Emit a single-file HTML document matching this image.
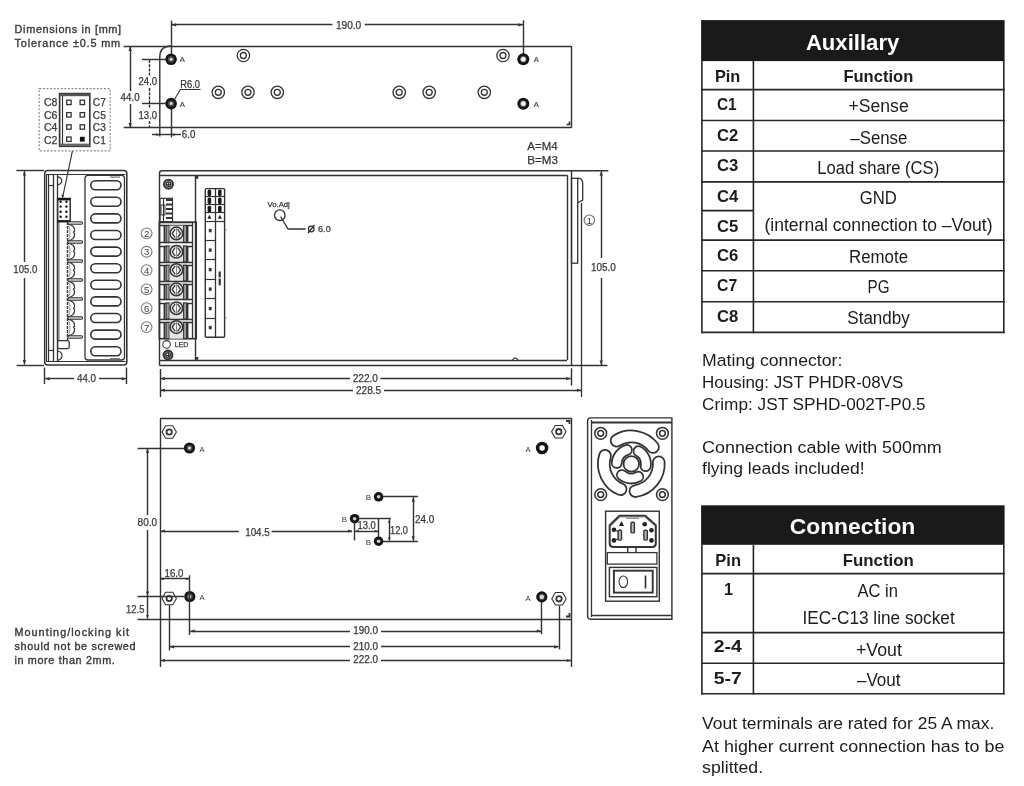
<!DOCTYPE html>
<html><head><meta charset="utf-8"><title>Dimensions</title>
<style>
html,body{margin:0;padding:0;background:#ffffff;}
body{width:1024px;height:786px;overflow:hidden;}
svg{display:block;will-change:transform;font-family:"Liberation Sans", sans-serif;}
</style></head>
<body>
<svg width="1024" height="786" viewBox="0 0 1024 786">
<rect x="0" y="0" width="1024" height="786" fill="#ffffff"/>
<line x1="123.7" y1="46.5" x2="571.4" y2="46.5" stroke="#333333" stroke-width="1.42" />
<line x1="123.7" y1="127.5" x2="571.4" y2="127.5" stroke="#333333" stroke-width="1.42" />
<line x1="571.5" y1="46" x2="571.5" y2="127.9" stroke="#333333" stroke-width="1.42" />
<path d="M171,46 Q159.8,46 159.8,57 L159.8,136.6" stroke="#333333" stroke-width="1.42" fill="none" />
<line x1="171.5" y1="20.6" x2="171.5" y2="54.5" stroke="#333333" stroke-width="1.42" />
<line x1="171.5" y1="108.5" x2="171.5" y2="137.4" stroke="#333333" stroke-width="1.42" />
<line x1="523.5" y1="20.3" x2="523.5" y2="59" stroke="#333333" stroke-width="1.42" />
<line x1="171" y1="24.5" x2="332.4" y2="24.5" stroke="#333333" stroke-width="1.42" />
<line x1="364.8" y1="24.5" x2="523.4" y2="24.5" stroke="#333333" stroke-width="1.42" />
<polygon points="171.6,24.9 176.1,23.3 176.1,26.5" fill="#333333"/>
<polygon points="522.8,24.9 518.3,23.3 518.3,26.5" fill="#333333"/>
<text x="335.9" y="29.2" font-size="10.3" fill="#383838" text-anchor="start" font-weight="normal" textLength="25.3" lengthAdjust="spacingAndGlyphs" stroke="#383838" stroke-width="0.25">190.0</text>
<circle cx="171.1" cy="59.3" r="5.8" fill="#141414"/>
<circle cx="171.1" cy="59.3" r="3.19" fill="#4a4a4a"/>
<circle cx="171.1" cy="59.3" r="1.5" fill="#d8d8d8"/>
<circle cx="171.1" cy="103.6" r="5.8" fill="#141414"/>
<circle cx="171.1" cy="103.6" r="3.19" fill="#4a4a4a"/>
<circle cx="171.1" cy="103.6" r="1.5" fill="#d8d8d8"/>
<circle cx="523.3" cy="59.3" r="6" fill="#141414"/>
<circle cx="523.3" cy="59.3" r="3.2" fill="#6a6a6a"/>
<circle cx="523.3" cy="59.3" r="2.4" fill="#f2f2f2"/>
<circle cx="523.3" cy="103.7" r="6" fill="#141414"/>
<circle cx="523.3" cy="103.7" r="3.2" fill="#6a6a6a"/>
<circle cx="523.3" cy="103.7" r="2.4" fill="#f2f2f2"/>
<text x="179.8" y="61.8" font-size="7.0" fill="#383838" text-anchor="start" font-weight="normal" textLength="5.1" lengthAdjust="spacingAndGlyphs" stroke="#555" stroke-width="0.2">A</text>
<text x="179.8" y="107" font-size="7.0" fill="#383838" text-anchor="start" font-weight="normal" textLength="5.1" lengthAdjust="spacingAndGlyphs" stroke="#555" stroke-width="0.2">A</text>
<text x="533.7" y="61.8" font-size="7.0" fill="#383838" text-anchor="start" font-weight="normal" textLength="5.1" lengthAdjust="spacingAndGlyphs" stroke="#555" stroke-width="0.2">A</text>
<text x="533.7" y="107.2" font-size="7.0" fill="#383838" text-anchor="start" font-weight="normal" textLength="5.1" lengthAdjust="spacingAndGlyphs" stroke="#555" stroke-width="0.2">A</text>
<circle cx="243.4" cy="55.5" r="6.2" stroke="#333333" stroke-width="1.3" fill="none" />
<circle cx="243.4" cy="55.5" r="3" stroke="#333333" stroke-width="1.3" fill="none" />
<circle cx="503" cy="55.5" r="6.2" stroke="#333333" stroke-width="1.3" fill="none" />
<circle cx="503" cy="55.5" r="3" stroke="#333333" stroke-width="1.3" fill="none" />
<circle cx="218.3" cy="92.3" r="6.2" stroke="#333333" stroke-width="1.3" fill="none" />
<circle cx="218.3" cy="92.3" r="3" stroke="#333333" stroke-width="1.3" fill="none" />
<circle cx="248" cy="92.3" r="6.2" stroke="#333333" stroke-width="1.3" fill="none" />
<circle cx="248" cy="92.3" r="3" stroke="#333333" stroke-width="1.3" fill="none" />
<circle cx="277.3" cy="92.3" r="6.2" stroke="#333333" stroke-width="1.3" fill="none" />
<circle cx="277.3" cy="92.3" r="3" stroke="#333333" stroke-width="1.3" fill="none" />
<circle cx="399.2" cy="92.3" r="6.2" stroke="#333333" stroke-width="1.3" fill="none" />
<circle cx="399.2" cy="92.3" r="3" stroke="#333333" stroke-width="1.3" fill="none" />
<circle cx="429.2" cy="92.3" r="6.2" stroke="#333333" stroke-width="1.3" fill="none" />
<circle cx="429.2" cy="92.3" r="3" stroke="#333333" stroke-width="1.3" fill="none" />
<circle cx="484.3" cy="92.3" r="6.2" stroke="#333333" stroke-width="1.3" fill="none" />
<circle cx="484.3" cy="92.3" r="3" stroke="#333333" stroke-width="1.3" fill="none" />
<line x1="130.5" y1="46.5" x2="130.5" y2="91" stroke="#333333" stroke-width="1.42" />
<line x1="130.5" y1="104" x2="130.5" y2="127.5" stroke="#333333" stroke-width="1.42" />
<polygon points="130.1,46.6 128.5,51.1 131.7,51.1" fill="#333333"/>
<polygon points="130.1,127.4 128.5,122.9 131.7,122.9" fill="#333333"/>
<text x="120.6" y="100.9" font-size="10.3" fill="#383838" text-anchor="start" font-weight="normal" textLength="19" lengthAdjust="spacingAndGlyphs" stroke="#383838" stroke-width="0.25">44.0</text>
<line x1="142" y1="59.5" x2="166" y2="59.5" stroke="#333333" stroke-width="1.42" />
<line x1="142" y1="103.5" x2="166" y2="103.5" stroke="#333333" stroke-width="1.42" />
<line x1="149.5" y1="60" x2="149.5" y2="76" stroke="#333333" stroke-width="1.42" stroke-dasharray="3,1.2"/>
<line x1="149.5" y1="88" x2="149.5" y2="109" stroke="#333333" stroke-width="1.42" stroke-dasharray="3,1.2"/>
<line x1="149.5" y1="121" x2="149.5" y2="127.5" stroke="#333333" stroke-width="1.42" stroke-dasharray="3,1.2"/>
<text x="138.5" y="85" font-size="10.3" fill="#383838" text-anchor="start" font-weight="normal" textLength="18.6" lengthAdjust="spacingAndGlyphs" stroke="#383838" stroke-width="0.25">24.0</text>
<text x="138.5" y="118.7" font-size="10.3" fill="#383838" text-anchor="start" font-weight="normal" textLength="18.6" lengthAdjust="spacingAndGlyphs" stroke="#383838" stroke-width="0.25">13.0</text>
<line x1="151.9" y1="134.5" x2="181" y2="134.5" stroke="#333333" stroke-width="1.42" />
<polygon points="159.8,134.6 156.3,133.3 156.3,135.9" fill="#333333"/>
<polygon points="171,134.6 174.5,133.3 174.5,135.9" fill="#333333"/>
<text x="181.8" y="138.4" font-size="10.3" fill="#383838" text-anchor="start" font-weight="normal" textLength="13.5" lengthAdjust="spacingAndGlyphs" stroke="#383838" stroke-width="0.25">6.0</text>
<text x="180.2" y="88.4" font-size="10.3" fill="#383838" text-anchor="start" font-weight="normal" textLength="19.8" lengthAdjust="spacingAndGlyphs" stroke="#383838" stroke-width="0.25">R6.0</text>
<line x1="180" y1="89.5" x2="200.5" y2="89.5" stroke="#333333" stroke-width="1.06" />
<line x1="180.2" y1="89.8" x2="174.6" y2="99.3" stroke="#333333" stroke-width="1.06" />
<path d="M566.5,124.5 L569.5,124.5 L569.5,121.5" stroke="#333333" stroke-width="1.65" fill="none" />
<rect x="39.2" y="88.7" width="71" height="62.2" rx="0" stroke="#8a8a8a" stroke-width="1.18" fill="none" stroke-dasharray="2,1.6"/>
<rect x="59.6" y="93.6" width="30.2" height="52.7" rx="0" stroke="#333333" stroke-width="1.65" fill="none" />
<line x1="62.5" y1="93.6" x2="62.5" y2="146.3" stroke="#333333" stroke-width="1.18" />
<rect x="59.6" y="93.6" width="30.2" height="2.6" fill="#555"/>
<rect x="59.6" y="143.6" width="30.2" height="2.7" fill="#666"/>
<rect x="66.7" y="100.2" width="4.4" height="4.4" rx="0" stroke="#333333" stroke-width="1.3" fill="none" />
<rect x="80.1" y="100.2" width="4.4" height="4.4" rx="0" stroke="#333333" stroke-width="1.3" fill="none" />
<rect x="66.7" y="112.6" width="4.4" height="4.4" rx="0" stroke="#333333" stroke-width="1.3" fill="none" />
<rect x="80.1" y="112.6" width="4.4" height="4.4" rx="0" stroke="#333333" stroke-width="1.3" fill="none" />
<rect x="66.7" y="124.8" width="4.4" height="4.4" rx="0" stroke="#333333" stroke-width="1.3" fill="none" />
<rect x="80.1" y="124.8" width="4.4" height="4.4" rx="0" stroke="#333333" stroke-width="1.3" fill="none" />
<rect x="66.7" y="137" width="4.4" height="4.4" rx="0" stroke="#333333" stroke-width="1.3" fill="none" />
<rect x="79.9" y="136.8" width="4.8" height="4.8" fill="#111"/>
<text x="44" y="106.2" font-size="10.2" fill="#383838" text-anchor="start" font-weight="normal" textLength="13.5" lengthAdjust="spacingAndGlyphs" stroke="#383838" stroke-width="0.25">C8</text>
<text x="92.8" y="106.2" font-size="10.2" fill="#383838" text-anchor="start" font-weight="normal" textLength="13" lengthAdjust="spacingAndGlyphs" stroke="#383838" stroke-width="0.25">C7</text>
<text x="44" y="118.8" font-size="10.2" fill="#383838" text-anchor="start" font-weight="normal" textLength="13.5" lengthAdjust="spacingAndGlyphs" stroke="#383838" stroke-width="0.25">C6</text>
<text x="92.8" y="118.8" font-size="10.2" fill="#383838" text-anchor="start" font-weight="normal" textLength="13" lengthAdjust="spacingAndGlyphs" stroke="#383838" stroke-width="0.25">C5</text>
<text x="44" y="131.4" font-size="10.2" fill="#383838" text-anchor="start" font-weight="normal" textLength="13.5" lengthAdjust="spacingAndGlyphs" stroke="#383838" stroke-width="0.25">C4</text>
<text x="92.8" y="131.4" font-size="10.2" fill="#383838" text-anchor="start" font-weight="normal" textLength="13" lengthAdjust="spacingAndGlyphs" stroke="#383838" stroke-width="0.25">C3</text>
<text x="44" y="144" font-size="10.2" fill="#383838" text-anchor="start" font-weight="normal" textLength="13.5" lengthAdjust="spacingAndGlyphs" stroke="#383838" stroke-width="0.25">C2</text>
<text x="92.8" y="144" font-size="10.2" fill="#383838" text-anchor="start" font-weight="normal" textLength="13" lengthAdjust="spacingAndGlyphs" stroke="#383838" stroke-width="0.25">C1</text>
<line x1="72.4" y1="151" x2="62.5" y2="198" stroke="#333333" stroke-width="1.18" />
<polygon points="62.6,198.2 61.3,194.7 63.9,194.7" fill="#333333"/>
<line x1="16.3" y1="170.5" x2="44" y2="170.5" stroke="#333333" stroke-width="1.42" />
<line x1="16.6" y1="365.5" x2="44" y2="365.5" stroke="#333333" stroke-width="1.42" />
<line x1="24.5" y1="171" x2="24.5" y2="262" stroke="#333333" stroke-width="1.42" />
<line x1="24.5" y1="278" x2="24.5" y2="364.5" stroke="#333333" stroke-width="1.42" />
<polygon points="24.4,171 22.8,175.5 26,175.5" fill="#333333"/>
<polygon points="24.4,364.5 22.8,360 26,360" fill="#333333"/>
<text x="13.3" y="272.9" font-size="10.3" fill="#383838" text-anchor="start" font-weight="normal" textLength="24" lengthAdjust="spacingAndGlyphs" stroke="#383838" stroke-width="0.25">105.0</text>
<rect x="44.7" y="170.5" width="82.1" height="194.5" rx="3" stroke="#333333" stroke-width="1.53" fill="none" />
<line x1="46" y1="174.5" x2="125.5" y2="174.5" stroke="#333333" stroke-width="1.18" />
<line x1="46" y1="361.5" x2="125.5" y2="361.5" stroke="#333333" stroke-width="1.18" />
<line x1="46.5" y1="174.8" x2="46.5" y2="361.1" stroke="#333333" stroke-width="1.06" />
<line x1="48.5" y1="174.8" x2="48.5" y2="361.1" stroke="#333333" stroke-width="1.3" />
<line x1="53.5" y1="174.8" x2="53.5" y2="361.1" stroke="#333333" stroke-width="1.3" />
<line x1="57.5" y1="174.8" x2="57.5" y2="361.1" stroke="#333333" stroke-width="1.3" />
<line x1="48.4" y1="185.5" x2="53.6" y2="185.5" stroke="#333333" stroke-width="1.18" />
<line x1="48.4" y1="350.5" x2="53.6" y2="350.5" stroke="#333333" stroke-width="1.18" />
<path d="M57.6,176.8 Q61.8,177.5 61.8,180.5 Q61.8,184 57.6,184.8" stroke="#333333" stroke-width="1.18" fill="none" />
<path d="M57.6,351 Q62,352 62,355.5 Q62,359.5 57.6,360.2" stroke="#333333" stroke-width="1.18" fill="none" />
<rect x="57.6" y="198.5" width="12.6" height="22.7" rx="0" stroke="#333333" stroke-width="1.53" fill="none" />
<rect x="57.6" y="198" width="12.6" height="2.4" fill="#151515"/>
<circle cx="60.6" cy="201.7" r="1.2" fill="#111"/>
<circle cx="66.4" cy="201.7" r="1.2" fill="#111"/>
<circle cx="60.6" cy="206.6" r="1.2" fill="#111"/>
<circle cx="66.4" cy="206.6" r="1.2" fill="#111"/>
<circle cx="60.6" cy="211.8" r="1.2" fill="#111"/>
<circle cx="66.4" cy="211.8" r="1.2" fill="#111"/>
<circle cx="60.6" cy="216.7" r="1.2" fill="#111"/>
<circle cx="66.4" cy="216.7" r="1.2" fill="#111"/>
<rect x="57.6" y="221.2" width="2.1" height="119" fill="#9a9a9a"/>
<line x1="57.5" y1="221.2" x2="57.5" y2="340.6" stroke="#333333" stroke-width="1.3" />
<line x1="67.5" y1="222" x2="67.5" y2="340" stroke="#333333" stroke-width="1.42" stroke-dasharray="3,1"/>
<rect x="57.6" y="220.2" width="12.8" height="2.2" fill="#151515"/>
<rect x="67.8" y="221.75" width="14.8" height="2.5" rx="1.2" stroke="#333333" stroke-width="1.06" fill="#d4d4d4" />
<rect x="67.8" y="240.75" width="14.8" height="2.5" rx="1.2" stroke="#333333" stroke-width="1.06" fill="#d4d4d4" />
<rect x="67.8" y="259.75" width="14.8" height="2.5" rx="1.2" stroke="#333333" stroke-width="1.06" fill="#d4d4d4" />
<rect x="67.8" y="278.75" width="14.8" height="2.5" rx="1.2" stroke="#333333" stroke-width="1.06" fill="#d4d4d4" />
<rect x="67.8" y="297.75" width="14.8" height="2.5" rx="1.2" stroke="#333333" stroke-width="1.06" fill="#d4d4d4" />
<rect x="67.8" y="316.75" width="14.8" height="2.5" rx="1.2" stroke="#333333" stroke-width="1.06" fill="#d4d4d4" />
<rect x="67.8" y="335.75" width="14.8" height="2.5" rx="1.2" stroke="#333333" stroke-width="1.06" fill="#d4d4d4" />
<path d="M68,224.5 C72,224.5 75,227 74.6,231.1 Q72.4,232.3 74.6,233.5 C75,238 72,240.5 68,240.5" stroke="#333333" stroke-width="1.18" fill="none" />
<path d="M68.5,226 C70.5,227.5 70.5,237.5 68.5,239" stroke="#777" stroke-width="0.83" fill="none" />
<path d="M68,243.5 C72,243.5 75,246 74.6,250.1 Q72.4,251.3 74.6,252.5 C75,257 72,259.5 68,259.5" stroke="#333333" stroke-width="1.18" fill="none" />
<path d="M68.5,245 C70.5,246.5 70.5,256.5 68.5,258" stroke="#777" stroke-width="0.83" fill="none" />
<path d="M68,262.5 C72,262.5 75,265 74.6,269.1 Q72.4,270.3 74.6,271.5 C75,276 72,278.5 68,278.5" stroke="#333333" stroke-width="1.18" fill="none" />
<path d="M68.5,264 C70.5,265.5 70.5,275.5 68.5,277" stroke="#777" stroke-width="0.83" fill="none" />
<path d="M68,281.5 C72,281.5 75,284 74.6,288.1 Q72.4,289.3 74.6,290.5 C75,295 72,297.5 68,297.5" stroke="#333333" stroke-width="1.18" fill="none" />
<path d="M68.5,283 C70.5,284.5 70.5,294.5 68.5,296" stroke="#777" stroke-width="0.83" fill="none" />
<path d="M68,300.5 C72,300.5 75,303 74.6,307.1 Q72.4,308.3 74.6,309.5 C75,314 72,316.5 68,316.5" stroke="#333333" stroke-width="1.18" fill="none" />
<path d="M68.5,302 C70.5,303.5 70.5,313.5 68.5,315" stroke="#777" stroke-width="0.83" fill="none" />
<path d="M68,319.5 C72,319.5 75,322 74.6,326.1 Q72.4,327.3 74.6,328.5 C75,333 72,335.5 68,335.5" stroke="#333333" stroke-width="1.18" fill="none" />
<path d="M68.5,321 C70.5,322.5 70.5,332.5 68.5,334" stroke="#777" stroke-width="0.83" fill="none" />
<rect x="57.6" y="340.6" width="11.6" height="8" rx="1.5" stroke="#333333" stroke-width="1.3" fill="none" />
<rect x="85" y="175.4" width="39.5" height="184.6" rx="3" stroke="#333333" stroke-width="1.3" fill="none" />
<rect x="90.8" y="180.7" width="30.2" height="9" rx="4.5" stroke="#333333" stroke-width="1.59" fill="none" />
<rect x="90.8" y="197.3" width="30.2" height="9" rx="4.5" stroke="#333333" stroke-width="1.59" fill="none" />
<rect x="90.8" y="213.9" width="30.2" height="9" rx="4.5" stroke="#333333" stroke-width="1.59" fill="none" />
<rect x="90.8" y="230.5" width="30.2" height="9" rx="4.5" stroke="#333333" stroke-width="1.59" fill="none" />
<rect x="90.8" y="247.1" width="30.2" height="9" rx="4.5" stroke="#333333" stroke-width="1.59" fill="none" />
<rect x="90.8" y="263.7" width="30.2" height="9" rx="4.5" stroke="#333333" stroke-width="1.59" fill="none" />
<rect x="90.8" y="280.3" width="30.2" height="9" rx="4.5" stroke="#333333" stroke-width="1.59" fill="none" />
<rect x="90.8" y="296.9" width="30.2" height="9" rx="4.5" stroke="#333333" stroke-width="1.59" fill="none" />
<rect x="90.8" y="313.5" width="30.2" height="9" rx="4.5" stroke="#333333" stroke-width="1.59" fill="none" />
<rect x="90.8" y="330.1" width="30.2" height="9" rx="4.5" stroke="#333333" stroke-width="1.59" fill="none" />
<rect x="90.8" y="346.7" width="30.2" height="9" rx="4.5" stroke="#333333" stroke-width="1.59" fill="none" />
<rect x="110" y="176.5" width="10" height="1.2" fill="#777"/>
<rect x="110" y="358" width="10" height="1.2" fill="#777"/>
<line x1="44.5" y1="367.5" x2="44.5" y2="384" stroke="#333333" stroke-width="1.42" />
<line x1="126.5" y1="367.5" x2="126.5" y2="384" stroke="#333333" stroke-width="1.42" />
<line x1="45.2" y1="378.5" x2="74" y2="378.5" stroke="#333333" stroke-width="1.42" />
<line x1="99" y1="378.5" x2="126.1" y2="378.5" stroke="#333333" stroke-width="1.42" />
<polygon points="45.2,378.8 49.7,377.2 49.7,380.4" fill="#333333"/>
<polygon points="126.1,378.8 121.6,377.2 121.6,380.4" fill="#333333"/>
<text x="77" y="381.9" font-size="10.3" fill="#383838" text-anchor="start" font-weight="normal" textLength="19" lengthAdjust="spacingAndGlyphs" stroke="#383838" stroke-width="0.25">44.0</text>
<path d="M159.5,365.5 L159.5,173 Q159.5,170.7 162,170.7 L608.3,170.7" stroke="#333333" stroke-width="1.42" fill="none" />
<line x1="159.5" y1="175.5" x2="567.8" y2="175.5" stroke="#333333" stroke-width="1.42" />
<line x1="567.5" y1="175.8" x2="567.5" y2="360.1" stroke="#333333" stroke-width="1.42" />
<line x1="159.5" y1="360.5" x2="567" y2="360.5" stroke="#333333" stroke-width="1.42" />
<line x1="159.5" y1="365.5" x2="607.5" y2="365.5" stroke="#333333" stroke-width="1.42" />
<line x1="571.5" y1="170.7" x2="571.5" y2="365.5" stroke="#333333" stroke-width="1.42" />
<line x1="195.5" y1="175.8" x2="195.5" y2="360.1" stroke="#333333" stroke-width="1.42" />
<rect x="196" y="176" width="2.2" height="2.8" fill="#333"/>
<rect x="196" y="357" width="2.2" height="2.8" fill="#333"/>
<path d="M512.5,360.1 Q515.3,355.5 518,360.1" stroke="#333333" stroke-width="1.18" fill="white" />
<circle cx="168.5" cy="184.2" r="4.4" stroke="#333333" stroke-width="2.12" fill="#d8d8d8" />
<circle cx="168.5" cy="184.2" r="2.4" stroke="#333333" stroke-width="1.18" fill="none" />
<line x1="166.3" y1="184.5" x2="170.7" y2="184.5" stroke="#333333" stroke-width="0.94" />
<line x1="168.5" y1="182" x2="168.5" y2="186.4" stroke="#333333" stroke-width="0.94" />
<circle cx="168" cy="355" r="4.4" stroke="#333333" stroke-width="2.12" fill="#d8d8d8" />
<circle cx="168" cy="355" r="2.4" stroke="#333333" stroke-width="1.18" fill="none" />
<line x1="165.8" y1="355.5" x2="170.2" y2="355.5" stroke="#333333" stroke-width="0.94" />
<line x1="168.5" y1="352.8" x2="168.5" y2="357.2" stroke="#333333" stroke-width="0.94" />
<rect x="160" y="198.3" width="12.5" height="23.5" rx="0" stroke="#333333" stroke-width="1.18" fill="none" />
<line x1="163.5" y1="198.3" x2="163.5" y2="221.8" stroke="#333333" stroke-width="1.18" />
<rect x="166" y="199" width="7" height="2" fill="#333"/>
<rect x="166" y="203.5" width="7" height="2" fill="#333"/>
<rect x="166" y="208" width="7" height="2" fill="#333"/>
<rect x="166" y="212.5" width="7" height="2" fill="#333"/>
<rect x="166" y="217" width="7" height="2" fill="#333"/>
<rect x="161" y="205" width="4" height="10" rx="0" stroke="#333333" stroke-width="0.94" fill="none" />
<rect x="159.4" y="222.2" width="36.8" height="116.5" rx="0" stroke="#333333" stroke-width="1.65" fill="none" />
<line x1="192.5" y1="222.2" x2="192.5" y2="338.7" stroke="#333333" stroke-width="1.3" />
<line x1="159.4" y1="222.5" x2="192.8" y2="222.5" stroke="#333333" stroke-width="1.53" />
<line x1="159.4" y1="225.5" x2="192.8" y2="225.5" stroke="#333333" stroke-width="1.3" />
<line x1="164.5" y1="225.6" x2="164.5" y2="242.6" stroke="#333333" stroke-width="1.89" />
<rect x="166.2" y="225.6" width="3" height="17" rx="0" stroke="#333333" stroke-width="1.06" fill="#a0a0a0" />
<rect x="169.6" y="225.6" width="13.6" height="17" fill="#e4e4e4"/>
<rect x="183.6" y="225.6" width="3" height="17" rx="0" stroke="#333333" stroke-width="1.06" fill="#a0a0a0" />
<line x1="187.5" y1="225.6" x2="187.5" y2="242.6" stroke="#333333" stroke-width="1.89" />
<circle cx="176.4" cy="233.4" r="6.3" stroke="#333333" stroke-width="1.53" fill="#f4f4f4" />
<path d="M175.2,229.1 L172.2,233.4 L175.2,237.7 M177.6,229.1 L180.6,233.4 L177.6,237.7" stroke="#333333" stroke-width="1.3" fill="none" />
<line x1="176.5" y1="227.9" x2="176.5" y2="238.9" stroke="#777" stroke-width="0.83" />
<circle cx="146.6" cy="233.4" r="5.4" stroke="#777" stroke-width="1.06" fill="none" />
<text x="146.6" y="236.8" font-size="9.6" fill="#3a3a3a" text-anchor="middle" font-weight="normal" >2</text>
<line x1="159.4" y1="242.5" x2="192.8" y2="242.5" stroke="#333333" stroke-width="1.53" />
<line x1="159.4" y1="246.5" x2="192.8" y2="246.5" stroke="#333333" stroke-width="1.3" />
<line x1="164.5" y1="246" x2="164.5" y2="261.9" stroke="#333333" stroke-width="1.89" />
<rect x="166.2" y="246" width="3" height="15.9" rx="0" stroke="#333333" stroke-width="1.06" fill="#a0a0a0" />
<rect x="169.6" y="246" width="13.6" height="15.9" fill="#e4e4e4"/>
<rect x="183.6" y="246" width="3" height="15.9" rx="0" stroke="#333333" stroke-width="1.06" fill="#a0a0a0" />
<line x1="187.5" y1="246" x2="187.5" y2="261.9" stroke="#333333" stroke-width="1.89" />
<circle cx="176.4" cy="251.8" r="6.3" stroke="#333333" stroke-width="1.53" fill="#f4f4f4" />
<path d="M175.2,247.5 L172.2,251.8 L175.2,256.1 M177.6,247.5 L180.6,251.8 L177.6,256.1" stroke="#333333" stroke-width="1.3" fill="none" />
<line x1="176.5" y1="246.3" x2="176.5" y2="257.3" stroke="#777" stroke-width="0.83" />
<circle cx="146.6" cy="251.8" r="5.4" stroke="#777" stroke-width="1.06" fill="none" />
<text x="146.6" y="255.2" font-size="9.6" fill="#3a3a3a" text-anchor="middle" font-weight="normal" >3</text>
<line x1="159.4" y1="262.5" x2="192.8" y2="262.5" stroke="#333333" stroke-width="1.53" />
<line x1="159.4" y1="265.5" x2="192.8" y2="265.5" stroke="#333333" stroke-width="1.3" />
<line x1="164.5" y1="265.3" x2="164.5" y2="280.9" stroke="#333333" stroke-width="1.89" />
<rect x="166.2" y="265.3" width="3" height="15.6" rx="0" stroke="#333333" stroke-width="1.06" fill="#a0a0a0" />
<rect x="169.6" y="265.3" width="13.6" height="15.6" fill="#e4e4e4"/>
<rect x="183.6" y="265.3" width="3" height="15.6" rx="0" stroke="#333333" stroke-width="1.06" fill="#a0a0a0" />
<line x1="187.5" y1="265.3" x2="187.5" y2="280.9" stroke="#333333" stroke-width="1.89" />
<circle cx="176.4" cy="270.1" r="6.3" stroke="#333333" stroke-width="1.53" fill="#f4f4f4" />
<path d="M175.2,265.8 L172.2,270.1 L175.2,274.4 M177.6,265.8 L180.6,270.1 L177.6,274.4" stroke="#333333" stroke-width="1.3" fill="none" />
<line x1="176.5" y1="264.6" x2="176.5" y2="275.6" stroke="#777" stroke-width="0.83" />
<circle cx="146.6" cy="270.1" r="5.4" stroke="#777" stroke-width="1.06" fill="none" />
<text x="146.6" y="273.5" font-size="9.6" fill="#3a3a3a" text-anchor="middle" font-weight="normal" >4</text>
<line x1="159.4" y1="281.5" x2="192.8" y2="281.5" stroke="#333333" stroke-width="1.53" />
<line x1="159.4" y1="284.5" x2="192.8" y2="284.5" stroke="#333333" stroke-width="1.3" />
<line x1="164.5" y1="284.3" x2="164.5" y2="299.6" stroke="#333333" stroke-width="1.89" />
<rect x="166.2" y="284.3" width="3" height="15.3" rx="0" stroke="#333333" stroke-width="1.06" fill="#a0a0a0" />
<rect x="169.6" y="284.3" width="13.6" height="15.3" fill="#e4e4e4"/>
<rect x="183.6" y="284.3" width="3" height="15.3" rx="0" stroke="#333333" stroke-width="1.06" fill="#a0a0a0" />
<line x1="187.5" y1="284.3" x2="187.5" y2="299.6" stroke="#333333" stroke-width="1.89" />
<circle cx="176.4" cy="289.4" r="6.3" stroke="#333333" stroke-width="1.53" fill="#f4f4f4" />
<path d="M175.2,285.1 L172.2,289.4 L175.2,293.7 M177.6,285.1 L180.6,289.4 L177.6,293.7" stroke="#333333" stroke-width="1.3" fill="none" />
<line x1="176.5" y1="283.9" x2="176.5" y2="294.9" stroke="#777" stroke-width="0.83" />
<circle cx="146.6" cy="289.4" r="5.4" stroke="#777" stroke-width="1.06" fill="none" />
<text x="146.6" y="292.8" font-size="9.6" fill="#3a3a3a" text-anchor="middle" font-weight="normal" >5</text>
<line x1="159.4" y1="299.5" x2="192.8" y2="299.5" stroke="#333333" stroke-width="1.53" />
<line x1="159.4" y1="303.5" x2="192.8" y2="303.5" stroke="#333333" stroke-width="1.3" />
<line x1="164.5" y1="303" x2="164.5" y2="319" stroke="#333333" stroke-width="1.89" />
<rect x="166.2" y="303" width="3" height="16" rx="0" stroke="#333333" stroke-width="1.06" fill="#a0a0a0" />
<rect x="169.6" y="303" width="13.6" height="16" fill="#e4e4e4"/>
<rect x="183.6" y="303" width="3" height="16" rx="0" stroke="#333333" stroke-width="1.06" fill="#a0a0a0" />
<line x1="187.5" y1="303" x2="187.5" y2="319" stroke="#333333" stroke-width="1.89" />
<circle cx="176.4" cy="308.2" r="6.3" stroke="#333333" stroke-width="1.53" fill="#f4f4f4" />
<path d="M175.2,303.9 L172.2,308.2 L175.2,312.5 M177.6,303.9 L180.6,308.2 L177.6,312.5" stroke="#333333" stroke-width="1.3" fill="none" />
<line x1="176.5" y1="302.7" x2="176.5" y2="313.7" stroke="#777" stroke-width="0.83" />
<circle cx="146.6" cy="308.2" r="5.4" stroke="#777" stroke-width="1.06" fill="none" />
<text x="146.6" y="311.6" font-size="9.6" fill="#3a3a3a" text-anchor="middle" font-weight="normal" >6</text>
<line x1="159.4" y1="319.5" x2="192.8" y2="319.5" stroke="#333333" stroke-width="1.53" />
<line x1="159.4" y1="322.5" x2="192.8" y2="322.5" stroke="#333333" stroke-width="1.3" />
<line x1="164.5" y1="322.4" x2="164.5" y2="338.7" stroke="#333333" stroke-width="1.89" />
<rect x="166.2" y="322.4" width="3" height="16.3" rx="0" stroke="#333333" stroke-width="1.06" fill="#a0a0a0" />
<rect x="169.6" y="322.4" width="13.6" height="16.3" fill="#e4e4e4"/>
<rect x="183.6" y="322.4" width="3" height="16.3" rx="0" stroke="#333333" stroke-width="1.06" fill="#a0a0a0" />
<line x1="187.5" y1="322.4" x2="187.5" y2="338.7" stroke="#333333" stroke-width="1.89" />
<circle cx="176.4" cy="327.1" r="6.3" stroke="#333333" stroke-width="1.53" fill="#f4f4f4" />
<path d="M175.2,322.8 L172.2,327.1 L175.2,331.4 M177.6,322.8 L180.6,327.1 L177.6,331.4" stroke="#333333" stroke-width="1.3" fill="none" />
<line x1="176.5" y1="321.6" x2="176.5" y2="332.6" stroke="#777" stroke-width="0.83" />
<circle cx="146.6" cy="327.1" r="5.4" stroke="#777" stroke-width="1.06" fill="none" />
<text x="146.6" y="330.5" font-size="9.6" fill="#3a3a3a" text-anchor="middle" font-weight="normal" >7</text>
<rect x="205.3" y="188.6" width="19.3" height="148.7" rx="1" stroke="#333333" stroke-width="1.42" fill="none" />
<line x1="215.5" y1="188.6" x2="215.5" y2="337.3" stroke="#333333" stroke-width="1.3" />
<line x1="205.3" y1="196.5" x2="224.6" y2="196.5" stroke="#333333" stroke-width="1.18" />
<line x1="205.3" y1="204.5" x2="224.6" y2="204.5" stroke="#333333" stroke-width="1.18" />
<line x1="205.3" y1="212.5" x2="224.6" y2="212.5" stroke="#333333" stroke-width="1.18" />
<line x1="205.3" y1="221.5" x2="224.6" y2="221.5" stroke="#333333" stroke-width="1.18" />
<line x1="205.3" y1="240.5" x2="215.2" y2="240.5" stroke="#333333" stroke-width="1.18" />
<line x1="205.3" y1="259.5" x2="215.2" y2="259.5" stroke="#333333" stroke-width="1.18" />
<line x1="205.3" y1="279.5" x2="215.2" y2="279.5" stroke="#333333" stroke-width="1.18" />
<line x1="205.3" y1="298.5" x2="215.2" y2="298.5" stroke="#333333" stroke-width="1.18" />
<line x1="205.3" y1="318.5" x2="215.2" y2="318.5" stroke="#333333" stroke-width="1.18" />
<rect x="207.6" y="189.5" width="3.6" height="6.4" rx="1.5" fill="#1c1c1c"/>
<rect x="218" y="189.5" width="3.6" height="6.4" rx="1.5" fill="#1c1c1c"/>
<rect x="207.6" y="197.6" width="3.6" height="6.4" rx="1.5" fill="#1c1c1c"/>
<rect x="218" y="197.6" width="3.6" height="6.4" rx="1.5" fill="#1c1c1c"/>
<rect x="207.6" y="205.8" width="3.6" height="6.4" rx="1.5" fill="#1c1c1c"/>
<rect x="218" y="205.8" width="3.6" height="6.4" rx="1.5" fill="#1c1c1c"/>
<polygon points="207.4,218.8 211.4,218.8 209.4,214.8" fill="#222"/>
<polygon points="217.8,218.8 221.8,218.8 219.8,214.8" fill="#222"/>
<rect x="208.8" y="228.9" width="2.8" height="3.4" fill="#333"/>
<rect x="208.8" y="248.4" width="2.8" height="3.4" fill="#333"/>
<rect x="208.8" y="267.9" width="2.8" height="3.4" fill="#333"/>
<rect x="208.8" y="287.4" width="2.8" height="3.4" fill="#333"/>
<rect x="208.8" y="306.9" width="2.8" height="3.4" fill="#333"/>
<rect x="208.8" y="325.9" width="2.8" height="3.4" fill="#333"/>
<rect x="218.6" y="271.5" width="2.2" height="5.8" fill="#333"/>
<rect x="218.6" y="278.5" width="2.2" height="6.8" fill="#333"/>
<rect x="225.4" y="229" width="1.2" height="1.4" fill="#888"/>
<rect x="225.4" y="317" width="1.2" height="1.4" fill="#888"/>
<circle cx="166.6" cy="344.4" r="3.8" stroke="#333333" stroke-width="1.06" fill="none" />
<text x="174.7" y="346.8" font-size="7.4" fill="#383838" text-anchor="start" font-weight="normal" textLength="13.7" lengthAdjust="spacingAndGlyphs" stroke="#383838" stroke-width="0.25">LED</text>
<text x="267.5" y="207.3" font-size="7.3" fill="#383838" text-anchor="start" font-weight="normal" textLength="22.3" lengthAdjust="spacingAndGlyphs" stroke="#383838" stroke-width="0.25">Vo.Adj</text>
<circle cx="279.8" cy="215.2" r="5.3" stroke="#333333" stroke-width="1.3" fill="none" />
<path d="M280.6,216.5 L288,229 L305.6,229" stroke="#333333" stroke-width="1.3" fill="none" />
<circle cx="311.2" cy="229" r="2.8" stroke="#333333" stroke-width="1.3" fill="none" />
<line x1="308" y1="233" x2="314.5" y2="225" stroke="#333333" stroke-width="1.3" />
<text x="318" y="231.8" font-size="9.0" fill="#383838" text-anchor="start" font-weight="normal" textLength="12.8" lengthAdjust="spacingAndGlyphs" stroke="#383838" stroke-width="0.25">6.0</text>
<rect x="571.5" y="178.3" width="6.2" height="84.9" rx="0" stroke="#333333" stroke-width="1.3" fill="none" />
<path d="M577.7,178.3 L580,178.3 Q582.7,179.5 582.7,184 L582.7,200 L577.7,202.8" stroke="#333333" stroke-width="1.3" fill="none" />
<line x1="581.5" y1="202.8" x2="581.5" y2="397" stroke="#333333" stroke-width="1.3" />
<circle cx="589.3" cy="220.2" r="5.2" stroke="#666" stroke-width="1.06" fill="none" />
<text x="589.3" y="223.6" font-size="9.5" fill="#383838" text-anchor="middle" font-weight="normal" >1</text>
<line x1="601.5" y1="171.2" x2="601.5" y2="258" stroke="#333333" stroke-width="1.42" />
<line x1="601.5" y1="278" x2="601.5" y2="365" stroke="#333333" stroke-width="1.42" />
<polygon points="601.2,171.2 599.6,175.7 602.8,175.7" fill="#333333"/>
<polygon points="601.2,365 599.6,360.5 602.8,360.5" fill="#333333"/>
<text x="591" y="270.8" font-size="10.3" fill="#383838" text-anchor="start" font-weight="normal" textLength="24.9" lengthAdjust="spacingAndGlyphs" stroke="#383838" stroke-width="0.25">105.0</text>
<text x="527.3" y="149.6" font-size="10.3" fill="#383838" text-anchor="start" font-weight="normal" textLength="30.3" lengthAdjust="spacingAndGlyphs" stroke="#383838" stroke-width="0.25">A=M4</text>
<text x="527.3" y="163.9" font-size="10.3" fill="#383838" text-anchor="start" font-weight="normal" textLength="30.6" lengthAdjust="spacingAndGlyphs" stroke="#383838" stroke-width="0.25">B=M3</text>
<line x1="160.5" y1="369" x2="160.5" y2="397" stroke="#333333" stroke-width="1.42" />
<line x1="571.5" y1="368.3" x2="571.5" y2="385.5" stroke="#333333" stroke-width="1.42" />
<line x1="160.5" y1="378.5" x2="350" y2="378.5" stroke="#333333" stroke-width="1.42" />
<line x1="380.5" y1="378.5" x2="570.7" y2="378.5" stroke="#333333" stroke-width="1.42" />
<polygon points="160.5,378.7 165,377.1 165,380.3" fill="#333333"/>
<polygon points="570.7,378.7 566.2,377.1 566.2,380.3" fill="#333333"/>
<text x="352.7" y="382.3" font-size="10.3" fill="#383838" text-anchor="start" font-weight="normal" textLength="25.2" lengthAdjust="spacingAndGlyphs" stroke="#383838" stroke-width="0.25">222.0</text>
<line x1="160.5" y1="390.5" x2="353" y2="390.5" stroke="#333333" stroke-width="1.42" />
<line x1="384" y1="390.5" x2="581.4" y2="390.5" stroke="#333333" stroke-width="1.42" />
<polygon points="160.5,390.2 165,388.6 165,391.8" fill="#333333"/>
<polygon points="581.4,390.2 576.9,388.6 576.9,391.8" fill="#333333"/>
<text x="356" y="393.7" font-size="10.3" fill="#383838" text-anchor="start" font-weight="normal" textLength="25.2" lengthAdjust="spacingAndGlyphs" stroke="#383838" stroke-width="0.25">228.5</text>
<line x1="160" y1="418.5" x2="571.9" y2="418.5" stroke="#333333" stroke-width="1.42" />
<line x1="160.5" y1="418.3" x2="160.5" y2="667" stroke="#333333" stroke-width="1.42" />
<line x1="571.5" y1="418.3" x2="571.5" y2="667" stroke="#333333" stroke-width="1.42" />
<line x1="137.6" y1="619.5" x2="571.9" y2="619.5" stroke="#333333" stroke-width="1.42" />
<path d="M566,421 L569.5,421 L569.5,424" stroke="#333333" stroke-width="1.77" fill="none" />
<path d="M566,616.5 L569.5,616.5 L569.5,613" stroke="#333333" stroke-width="1.77" fill="none" />
<polygon points="176.4,432 172.8,438.24 165.6,438.24 162,432 165.6,425.76 172.8,425.76" stroke="#333333" stroke-width="1.1" fill="white"/>
<circle cx="169.2" cy="432" r="2.7" stroke="#333333" stroke-width="1.77" fill="none" />
<polygon points="566,431.7 562.4,437.94 555.2,437.94 551.6,431.7 555.2,425.46 562.4,425.46" stroke="#333333" stroke-width="1.1" fill="white"/>
<circle cx="558.8" cy="431.7" r="2.7" stroke="#333333" stroke-width="1.77" fill="none" />
<polygon points="176.4,598.5 172.8,604.74 165.6,604.74 162,598.5 165.6,592.26 172.8,592.26" stroke="#333333" stroke-width="1.1" fill="white"/>
<circle cx="169.2" cy="598.5" r="2.7" stroke="#333333" stroke-width="1.77" fill="none" />
<polygon points="566.2,598.8 562.6,605.04 555.4,605.04 551.8,598.8 555.4,592.56 562.6,592.56" stroke="#333333" stroke-width="1.1" fill="white"/>
<circle cx="559" cy="598.8" r="2.7" stroke="#333333" stroke-width="1.77" fill="none" />
<circle cx="189.5" cy="448" r="5.6" fill="#141414"/>
<circle cx="189.5" cy="448" r="3.08" fill="#4a4a4a"/>
<circle cx="189.5" cy="448" r="1.6" fill="#d8d8d8"/>
<circle cx="189.8" cy="596.5" r="5.6" fill="#141414"/>
<circle cx="189.8" cy="596.5" r="3.08" fill="#4a4a4a"/>
<circle cx="189.8" cy="596.5" r="1.6" fill="#d8d8d8"/>
<circle cx="542.1" cy="448" r="4.5" stroke="#151515" stroke-width="3.54" fill="white" />
<circle cx="541.8" cy="596.9" r="5.6" fill="#141414"/>
<circle cx="541.8" cy="596.9" r="3.08" fill="#4a4a4a"/>
<circle cx="541.8" cy="596.9" r="2.2" fill="#d8d8d8"/>
<text x="199.4" y="452.3" font-size="7.6" fill="#383838" text-anchor="start" font-weight="normal" >A</text>
<text x="199.4" y="600.2" font-size="7.6" fill="#383838" text-anchor="start" font-weight="normal" >A</text>
<text x="525.4" y="452.3" font-size="7.6" fill="#383838" text-anchor="start" font-weight="normal" >A</text>
<text x="525.4" y="601.2" font-size="7.6" fill="#383838" text-anchor="start" font-weight="normal" >A</text>
<line x1="137.6" y1="448.5" x2="184" y2="448.5" stroke="#333333" stroke-width="1.42" />
<line x1="137.6" y1="596.5" x2="184" y2="596.5" stroke="#333333" stroke-width="1.42" />
<line x1="147.5" y1="448.5" x2="147.5" y2="515" stroke="#333333" stroke-width="1.42" />
<line x1="147.5" y1="530" x2="147.5" y2="596" stroke="#333333" stroke-width="1.42" />
<polygon points="147.5,448.6 145.9,453.1 149.1,453.1" fill="#333333"/>
<polygon points="147.5,596 145.9,591.5 149.1,591.5" fill="#333333"/>
<line x1="147.5" y1="597" x2="147.5" y2="618.6" stroke="#333333" stroke-width="1.42" />
<polygon points="147.5,618.6 146.2,615.1 148.8,615.1" fill="#333333"/>
<text x="137.6" y="525.8" font-size="10.3" fill="#383838" text-anchor="start" font-weight="normal" textLength="19.4" lengthAdjust="spacingAndGlyphs" stroke="#383838" stroke-width="0.25">80.0</text>
<text x="126.1" y="612.9" font-size="10.3" fill="#383838" text-anchor="start" font-weight="normal" textLength="18.3" lengthAdjust="spacingAndGlyphs" stroke="#383838" stroke-width="0.25">12.5</text>
<line x1="160.5" y1="531.5" x2="238.8" y2="531.5" stroke="#333333" stroke-width="1.42" />
<line x1="271.6" y1="531.5" x2="352" y2="531.5" stroke="#333333" stroke-width="1.42" />
<polygon points="160.5,531 165,529.4 165,532.6" fill="#333333"/>
<polygon points="352.5,531 348,529.4 348,532.6" fill="#333333"/>
<text x="245.2" y="535.6" font-size="10.3" fill="#383838" text-anchor="start" font-weight="normal" textLength="24.6" lengthAdjust="spacingAndGlyphs" stroke="#383838" stroke-width="0.25">104.5</text>
<line x1="160.5" y1="578.5" x2="189.3" y2="578.5" stroke="#333333" stroke-width="1.42" />
<polygon points="160.5,578.9 164,577.6 164,580.2" fill="#333333"/>
<polygon points="189.3,578.9 185.8,577.6 185.8,580.2" fill="#333333"/>
<text x="164.6" y="577.2" font-size="10.3" fill="#383838" text-anchor="start" font-weight="normal" textLength="18.8" lengthAdjust="spacingAndGlyphs" stroke="#383838" stroke-width="0.25">16.0</text>
<line x1="189.5" y1="575.3" x2="189.5" y2="635" stroke="#333333" stroke-width="1.42" />
<line x1="169.5" y1="605" x2="169.5" y2="650.4" stroke="#333333" stroke-width="1.42" />
<line x1="541.5" y1="602" x2="541.5" y2="634.2" stroke="#333333" stroke-width="1.42" />
<line x1="559.5" y1="605.5" x2="559.5" y2="649.4" stroke="#333333" stroke-width="1.42" />
<line x1="190.3" y1="631.5" x2="350" y2="631.5" stroke="#333333" stroke-width="1.42" />
<line x1="381" y1="631.5" x2="541.3" y2="631.5" stroke="#333333" stroke-width="1.42" />
<polygon points="190.3,631 194.8,629.4 194.8,632.6" fill="#333333"/>
<polygon points="541.3,631 536.8,629.4 536.8,632.6" fill="#333333"/>
<text x="353.3" y="633.6" font-size="10.3" fill="#383838" text-anchor="start" font-weight="normal" textLength="24.7" lengthAdjust="spacingAndGlyphs" stroke="#383838" stroke-width="0.25">190.0</text>
<line x1="169.7" y1="646.5" x2="350" y2="646.5" stroke="#333333" stroke-width="1.42" />
<line x1="381" y1="646.5" x2="558.5" y2="646.5" stroke="#333333" stroke-width="1.42" />
<polygon points="169.7,646.9 174.2,645.3 174.2,648.5" fill="#333333"/>
<polygon points="558.5,646.9 554,645.3 554,648.5" fill="#333333"/>
<text x="353.3" y="649.9" font-size="10.3" fill="#383838" text-anchor="start" font-weight="normal" textLength="24.7" lengthAdjust="spacingAndGlyphs" stroke="#383838" stroke-width="0.25">210.0</text>
<line x1="160.5" y1="660.5" x2="350" y2="660.5" stroke="#333333" stroke-width="1.42" />
<line x1="381" y1="660.5" x2="571.4" y2="660.5" stroke="#333333" stroke-width="1.42" />
<polygon points="160.5,660.5 165,658.9 165,662.1" fill="#333333"/>
<polygon points="571.4,660.5 566.9,658.9 566.9,662.1" fill="#333333"/>
<text x="353.3" y="663.3" font-size="10.3" fill="#383838" text-anchor="start" font-weight="normal" textLength="24.7" lengthAdjust="spacingAndGlyphs" stroke="#383838" stroke-width="0.25">222.0</text>
<circle cx="378.6" cy="496.8" r="4.8" fill="#151515"/>
<circle cx="378.6" cy="496.8" r="1.8" fill="#cfcfcf"/>
<circle cx="354.6" cy="518.7" r="4.8" fill="#151515"/>
<circle cx="354.6" cy="518.7" r="1.8" fill="#cfcfcf"/>
<circle cx="378.6" cy="541.2" r="4.8" fill="#151515"/>
<circle cx="378.6" cy="541.2" r="1.8" fill="#cfcfcf"/>
<text x="365.7" y="500.1" font-size="8" fill="#383838" text-anchor="start" font-weight="normal" >B</text>
<text x="341.7" y="521.8" font-size="8" fill="#383838" text-anchor="start" font-weight="normal" >B</text>
<text x="365.7" y="544.7" font-size="8" fill="#383838" text-anchor="start" font-weight="normal" >B</text>
<line x1="383" y1="496.5" x2="417.9" y2="496.5" stroke="#333333" stroke-width="1.42" />
<line x1="383" y1="541.5" x2="417.9" y2="541.5" stroke="#333333" stroke-width="1.42" />
<line x1="359" y1="518.5" x2="391" y2="518.5" stroke="#333333" stroke-width="1.42" />
<line x1="413.5" y1="497.3" x2="413.5" y2="540.7" stroke="#333333" stroke-width="1.42" />
<polygon points="413.2,497.3 411.6,501.8 414.8,501.8" fill="#333333"/>
<polygon points="413.2,540.7 411.6,536.2 414.8,536.2" fill="#333333"/>
<text x="415" y="523" font-size="10.4" fill="#383838" text-anchor="start" font-weight="normal" textLength="19.3" lengthAdjust="spacingAndGlyphs" stroke="#383838" stroke-width="0.25">24.0</text>
<line x1="389.5" y1="519.2" x2="389.5" y2="540.7" stroke="#333333" stroke-width="1.42" />
<polygon points="389.2,519.2 387.9,522.7 390.5,522.7" fill="#333333"/>
<polygon points="389.2,540.7 387.9,537.2 390.5,537.2" fill="#333333"/>
<text x="390" y="533.5" font-size="10.4" fill="#383838" text-anchor="start" font-weight="normal" textLength="18" lengthAdjust="spacingAndGlyphs" stroke="#383838" stroke-width="0.25">12.0</text>
<line x1="378.5" y1="519" x2="378.5" y2="537" stroke="#333333" stroke-width="1.42" />
<line x1="354.5" y1="523" x2="354.5" y2="540.4" stroke="#333333" stroke-width="1.42" />
<line x1="355.1" y1="531.5" x2="378.1" y2="531.5" stroke="#333333" stroke-width="1.42" />
<polygon points="355.1,531 358.6,529.7 358.6,532.3" fill="#333333"/>
<polygon points="378.1,531 374.6,529.7 374.6,532.3" fill="#333333"/>
<text x="357.5" y="528.8" font-size="10.4" fill="#383838" text-anchor="start" font-weight="normal" textLength="18.2" lengthAdjust="spacingAndGlyphs" stroke="#383838" stroke-width="0.25">13.0</text>
<text x="14.5" y="636.3" font-size="10.8" fill="#383838" text-anchor="start" font-weight="normal" textLength="114.4" lengthAdjust="spacing" stroke="#383838" stroke-width="0.35">Mounting/locking kit</text>
<text x="14.5" y="649.7" font-size="10.8" fill="#383838" text-anchor="start" font-weight="normal" textLength="121" lengthAdjust="spacing" stroke="#383838" stroke-width="0.35">should not be screwed</text>
<text x="14.5" y="663.7" font-size="10.8" fill="#383838" text-anchor="start" font-weight="normal" textLength="100.3" lengthAdjust="spacing" stroke="#383838" stroke-width="0.35">in more than 2mm.</text>
<path d="M671.9,417.9 L590.5,417.9 Q587.6,417.9 587.6,421 L587.6,616 Q587.6,619.3 591,619.3 L671.9,619.3 Z" stroke="#333333" stroke-width="1.42" fill="none" />
<line x1="591.5" y1="420" x2="591.5" y2="617" stroke="#333333" stroke-width="1.3" />
<line x1="591.5" y1="422.5" x2="671.9" y2="422.5" stroke="#333333" stroke-width="1.89" />
<line x1="591.5" y1="615.5" x2="671.9" y2="615.5" stroke="#333333" stroke-width="1.3" />
<circle cx="600.7" cy="433.3" r="5.9" stroke="#333333" stroke-width="1.53" fill="none" />
<circle cx="600.7" cy="433.3" r="2.9" stroke="#333333" stroke-width="1.53" fill="none" />
<circle cx="662.4" cy="433.3" r="5.9" stroke="#333333" stroke-width="1.53" fill="none" />
<circle cx="662.4" cy="433.3" r="2.9" stroke="#333333" stroke-width="1.53" fill="none" />
<circle cx="600.7" cy="494.6" r="5.9" stroke="#333333" stroke-width="1.53" fill="none" />
<circle cx="600.7" cy="494.6" r="2.9" stroke="#333333" stroke-width="1.53" fill="none" />
<circle cx="662.4" cy="494.6" r="5.9" stroke="#333333" stroke-width="1.53" fill="none" />
<circle cx="662.4" cy="494.6" r="2.9" stroke="#333333" stroke-width="1.53" fill="none" />
<circle cx="631.3" cy="463.9" r="7.8" stroke="#333333" stroke-width="1.77" fill="none" />
<path d="M640.8,446.76 A19.6,19.6 0 0 1 650.66,466.97 A5,5 0 0 1 640.78,465.4 A9.6,9.6 0 0 0 635.95,455.5 A5,5 0 0 1 640.8,446.76 Z" stroke="#333333" stroke-width="1.77" fill="none" />
<path d="M640.8,481.04 A19.6,19.6 0 0 1 618.44,478.69 A5,5 0 0 1 625,471.15 A9.6,9.6 0 0 0 635.95,472.3 A5,5 0 0 1 640.8,481.04 Z" stroke="#333333" stroke-width="1.77" fill="none" />
<path d="M611.73,462.87 A19.6,19.6 0 0 1 625.57,445.16 A5,5 0 0 1 628.49,454.72 A9.6,9.6 0 0 0 621.71,463.4 A5,5 0 0 1 611.73,462.87 Z" stroke="#333333" stroke-width="1.77" fill="none" />
<path d="M613.35,435.73 A33.4,33.4 0 0 1 657.8,443.57 A5.9,5.9 0 0 1 648.44,450.75 A21.6,21.6 0 0 0 619.69,445.68 A5.9,5.9 0 0 1 613.35,435.73 Z" stroke="#333333" stroke-width="1.77" fill="none" />
<path d="M664.64,461.86 A33.4,33.4 0 0 1 636.24,496.93 A5.9,5.9 0 0 1 634.49,485.26 A21.6,21.6 0 0 0 652.86,462.58 A5.9,5.9 0 0 1 664.64,461.86 Z" stroke="#333333" stroke-width="1.77" fill="none" />
<path d="M618.52,494.76 A33.4,33.4 0 0 1 599.45,453.86 A5.9,5.9 0 0 1 610.7,457.4 A21.6,21.6 0 0 0 623.03,483.86 A5.9,5.9 0 0 1 618.52,494.76 Z" stroke="#333333" stroke-width="1.77" fill="none" />
<rect x="605.6" y="511.2" width="53.7" height="90" rx="0" stroke="#333333" stroke-width="1.42" fill="none" />
<path d="M609.7,525.2 L619.5,515.7 L645.2,515.7 L655.8,525.2 L655.8,543.5 Q655.8,546.9 652.3,546.9 L613.2,546.9 Q609.7,546.9 609.7,543.5 Z" stroke="#333333" stroke-width="2.01" fill="none" />
<path d="M611,525.8 L620,517.1 L644.7,517.1 L654.4,525.8" stroke="#777" stroke-width="0.71" fill="none" />
<path d="M627.7,546.9 L627.7,552.7 M636,546.9 L636,552.7" stroke="#333333" stroke-width="1.42" fill="none" />
<polygon points="619,526 621.5,521 624,526" fill="#1e1e1e"/>
<circle cx="644.7" cy="524.3" r="2.3" fill="#1e1e1e"/>
<circle cx="614" cy="529.8" r="2.3" fill="#1e1e1e"/>
<circle cx="651.5" cy="530.3" r="2.3" fill="#1e1e1e"/>
<circle cx="614" cy="540.4" r="2.3" fill="#1e1e1e"/>
<circle cx="651.5" cy="540.4" r="2.3" fill="#1e1e1e"/>
<rect x="631" y="522.3" width="3.4" height="10.6" rx="1" stroke="#333333" stroke-width="1.42" fill="#bbb" />
<rect x="618.1" y="530.3" width="3.4" height="9.8" rx="1" stroke="#333333" stroke-width="1.42" fill="#bbb" />
<rect x="643.9" y="530.3" width="3.4" height="9.8" rx="1" stroke="#333333" stroke-width="1.42" fill="#bbb" />
<path d="M614,529.8 L618,531.5 M614,540.4 L618,539" stroke="#333333" stroke-width="1.18" fill="none" />
<rect x="626" y="517.6" width="13" height="1.4" fill="#9a9a9a"/>
<rect x="607.3" y="552.6" width="49.6" height="11.5" rx="0" stroke="#333333" stroke-width="1.3" fill="none" />
<rect x="609.4" y="567.4" width="47.5" height="29.3" rx="0" stroke="#333333" stroke-width="1.42" fill="none" />
<rect x="613.9" y="570.7" width="38.8" height="21.9" rx="0" stroke="#333333" stroke-width="1.89" fill="none" />
<ellipse cx="623.3" cy="581.8" rx="4.3" ry="5.8" stroke="#333333" stroke-width="1.1" fill="none"/>
<line x1="645.5" y1="575.5" x2="645.5" y2="588.5" stroke="#333333" stroke-width="1.65" />
<rect x="701.1" y="20.1" width="303.5" height="41" fill="#1a1a1a"/>
<text x="805.9" y="50.2" font-size="22" fill="#ffffff" text-anchor="start" font-weight="bold" textLength="93.4" lengthAdjust="spacingAndGlyphs" >Auxillary</text>
<line x1="701.9" y1="60.5" x2="701.9" y2="333.2" stroke="#262626" stroke-width="1.6"/>
<line x1="1003.8" y1="60.5" x2="1003.8" y2="333.2" stroke="#262626" stroke-width="1.6"/>
<line x1="753.4" y1="61" x2="753.4" y2="333.2" stroke="#262626" stroke-width="1.6"/>
<line x1="701.1" y1="89.6" x2="1004.6" y2="89.6" stroke="#262626" stroke-width="1.6"/>
<line x1="701.1" y1="120.5" x2="1004.6" y2="120.5" stroke="#262626" stroke-width="1.6"/>
<line x1="701.1" y1="151" x2="1004.6" y2="151" stroke="#262626" stroke-width="1.6"/>
<line x1="701.1" y1="181.9" x2="1004.6" y2="181.9" stroke="#262626" stroke-width="1.6"/>
<line x1="701.9" y1="210.6" x2="753.4" y2="210.6" stroke="#262626" stroke-width="1.6"/>
<line x1="701.1" y1="240.1" x2="1004.6" y2="240.1" stroke="#262626" stroke-width="1.6"/>
<line x1="701.1" y1="270.7" x2="1004.6" y2="270.7" stroke="#262626" stroke-width="1.6"/>
<line x1="701.1" y1="301.7" x2="1004.6" y2="301.7" stroke="#262626" stroke-width="1.6"/>
<line x1="701.1" y1="332.4" x2="1004.6" y2="332.4" stroke="#262626" stroke-width="1.6"/>
<text x="714.9" y="81.7" font-size="16.4" fill="#1c1c1c" text-anchor="start" font-weight="bold" textLength="25.4" lengthAdjust="spacingAndGlyphs" >Pin</text>
<text x="843.4" y="82.2" font-size="16.4" fill="#1c1c1c" text-anchor="start" font-weight="bold" textLength="69.9" lengthAdjust="spacingAndGlyphs" >Function</text>
<text x="717" y="110.1" font-size="16.3" fill="#1c1c1c" text-anchor="start" font-weight="bold" textLength="19.7" lengthAdjust="spacingAndGlyphs" >C1</text>
<text x="717" y="140.5" font-size="16.3" fill="#1c1c1c" text-anchor="start" font-weight="bold" textLength="21.3" lengthAdjust="spacingAndGlyphs" >C2</text>
<text x="717" y="171.2" font-size="16.3" fill="#1c1c1c" text-anchor="start" font-weight="bold" textLength="21.3" lengthAdjust="spacingAndGlyphs" >C3</text>
<text x="717" y="201.6" font-size="16.3" fill="#1c1c1c" text-anchor="start" font-weight="bold" textLength="21.3" lengthAdjust="spacingAndGlyphs" >C4</text>
<text x="717" y="231.5" font-size="16.3" fill="#1c1c1c" text-anchor="start" font-weight="bold" textLength="21.3" lengthAdjust="spacingAndGlyphs" >C5</text>
<text x="717" y="260.9" font-size="16.3" fill="#1c1c1c" text-anchor="start" font-weight="bold" textLength="21.3" lengthAdjust="spacingAndGlyphs" >C6</text>
<text x="717" y="291" font-size="16.3" fill="#1c1c1c" text-anchor="start" font-weight="bold" textLength="20.2" lengthAdjust="spacingAndGlyphs" >C7</text>
<text x="717" y="322" font-size="16.3" fill="#1c1c1c" text-anchor="start" font-weight="bold" textLength="21.3" lengthAdjust="spacingAndGlyphs" >C8</text>
<text x="848.5" y="112.1" font-size="17.5" fill="#1c1c1c" text-anchor="start" font-weight="normal" textLength="60.2" lengthAdjust="spacingAndGlyphs" >+Sense</text>
<text x="850.3" y="144.1" font-size="17.5" fill="#1c1c1c" text-anchor="start" font-weight="normal" textLength="57.1" lengthAdjust="spacingAndGlyphs" >–Sense</text>
<text x="817.3" y="174.1" font-size="17.5" fill="#1c1c1c" text-anchor="start" font-weight="normal" textLength="121.9" lengthAdjust="spacingAndGlyphs" >Load share (CS)</text>
<text x="859.7" y="203.8" font-size="17.5" fill="#1c1c1c" text-anchor="start" font-weight="normal" textLength="37.1" lengthAdjust="spacingAndGlyphs" >GND</text>
<text x="764.5" y="230.5" font-size="17.5" fill="#1c1c1c" text-anchor="start" font-weight="normal" textLength="228" lengthAdjust="spacingAndGlyphs" >(internal connection to –Vout)</text>
<text x="849.1" y="262.7" font-size="17.5" fill="#1c1c1c" text-anchor="start" font-weight="normal" textLength="58.9" lengthAdjust="spacingAndGlyphs" >Remote</text>
<text x="867.5" y="293.2" font-size="17.5" fill="#1c1c1c" text-anchor="start" font-weight="normal" textLength="22" lengthAdjust="spacingAndGlyphs" >PG</text>
<text x="847.3" y="324" font-size="17.5" fill="#1c1c1c" text-anchor="start" font-weight="normal" textLength="62.5" lengthAdjust="spacingAndGlyphs" >Standby</text>
<text x="702.1" y="366.2" font-size="16.9" fill="#1c1c1c" text-anchor="start" font-weight="normal" textLength="140.2" lengthAdjust="spacingAndGlyphs" >Mating connector:</text>
<text x="702.1" y="388.2" font-size="16.9" fill="#1c1c1c" text-anchor="start" font-weight="normal" textLength="201.1" lengthAdjust="spacingAndGlyphs" >Housing: JST PHDR-08VS</text>
<text x="702.1" y="409.8" font-size="16.9" fill="#1c1c1c" text-anchor="start" font-weight="normal" textLength="223.5" lengthAdjust="spacingAndGlyphs" >Crimp: JST SPHD-002T-P0.5</text>
<text x="702.1" y="453" font-size="16.9" fill="#1c1c1c" text-anchor="start" font-weight="normal" textLength="239.7" lengthAdjust="spacingAndGlyphs" >Connection cable with 500mm</text>
<text x="702.1" y="474.1" font-size="16.9" fill="#1c1c1c" text-anchor="start" font-weight="normal" textLength="162.5" lengthAdjust="spacingAndGlyphs" >flying leads included!</text>
<rect x="701.1" y="505.3" width="303.5" height="39.5" fill="#1a1a1a"/>
<text x="789.7" y="534.2" font-size="22" fill="#ffffff" text-anchor="start" font-weight="bold" textLength="125.6" lengthAdjust="spacingAndGlyphs" >Connection</text>
<line x1="701.9" y1="544.5" x2="701.9" y2="694.5" stroke="#262626" stroke-width="1.6"/>
<line x1="1003.8" y1="544.5" x2="1003.8" y2="694.5" stroke="#262626" stroke-width="1.6"/>
<line x1="753.4" y1="545" x2="753.4" y2="694.5" stroke="#262626" stroke-width="1.6"/>
<line x1="701.1" y1="573.6" x2="1004.6" y2="573.6" stroke="#262626" stroke-width="1.6"/>
<line x1="701.1" y1="632.6" x2="1004.6" y2="632.6" stroke="#262626" stroke-width="1.6"/>
<line x1="701.1" y1="663.2" x2="1004.6" y2="663.2" stroke="#262626" stroke-width="1.6"/>
<line x1="701.1" y1="693.7" x2="1004.6" y2="693.7" stroke="#262626" stroke-width="1.6"/>
<text x="715.3" y="566.4" font-size="16.4" fill="#1c1c1c" text-anchor="start" font-weight="bold" textLength="25.7" lengthAdjust="spacingAndGlyphs" >Pin</text>
<text x="842.8" y="566.2" font-size="16.4" fill="#1c1c1c" text-anchor="start" font-weight="bold" textLength="71" lengthAdjust="spacingAndGlyphs" >Function</text>
<text x="728.6" y="594.5" font-size="16.3" fill="#1c1c1c" text-anchor="middle" font-weight="bold" >1</text>
<text x="713.8" y="652.3" font-size="16.3" fill="#1c1c1c" text-anchor="start" font-weight="bold" textLength="28.1" lengthAdjust="spacingAndGlyphs" >2-4</text>
<text x="713.8" y="683.9" font-size="16.3" fill="#1c1c1c" text-anchor="start" font-weight="bold" textLength="28.1" lengthAdjust="spacingAndGlyphs" >5-7</text>
<text x="857.5" y="597.3" font-size="17.5" fill="#1c1c1c" text-anchor="start" font-weight="normal" textLength="40.5" lengthAdjust="spacingAndGlyphs" >AC in</text>
<text x="802.5" y="624.4" font-size="17.5" fill="#1c1c1c" text-anchor="start" font-weight="normal" textLength="152.2" lengthAdjust="spacingAndGlyphs" >IEC-C13 line socket</text>
<text x="856" y="655.7" font-size="17.5" fill="#1c1c1c" text-anchor="start" font-weight="normal" textLength="45.9" lengthAdjust="spacingAndGlyphs" >+Vout</text>
<text x="856.9" y="686.1" font-size="17.5" fill="#1c1c1c" text-anchor="start" font-weight="normal" textLength="43.7" lengthAdjust="spacingAndGlyphs" >–Vout</text>
<text x="702.1" y="729" font-size="16.9" fill="#1c1c1c" text-anchor="start" font-weight="normal" textLength="292.3" lengthAdjust="spacingAndGlyphs" >Vout terminals are rated for 25 A max.</text>
<text x="702.1" y="751.6" font-size="16.9" fill="#1c1c1c" text-anchor="start" font-weight="normal" textLength="302.3" lengthAdjust="spacingAndGlyphs" >At higher current connection has to be</text>
<text x="702.1" y="772.8" font-size="16.9" fill="#1c1c1c" text-anchor="start" font-weight="normal" textLength="61" lengthAdjust="spacingAndGlyphs" >splitted.</text>
<text x="14.6" y="32.6" font-size="10.9" fill="#383838" text-anchor="start" font-weight="normal" textLength="106.5" lengthAdjust="spacing" stroke="#383838" stroke-width="0.35">Dimensions in [mm]</text>
<text x="14.6" y="46.8" font-size="10.9" fill="#383838" text-anchor="start" font-weight="normal" textLength="105.5" lengthAdjust="spacing" stroke="#383838" stroke-width="0.35">Tolerance ±0.5 mm</text>
</svg>
</body></html>
